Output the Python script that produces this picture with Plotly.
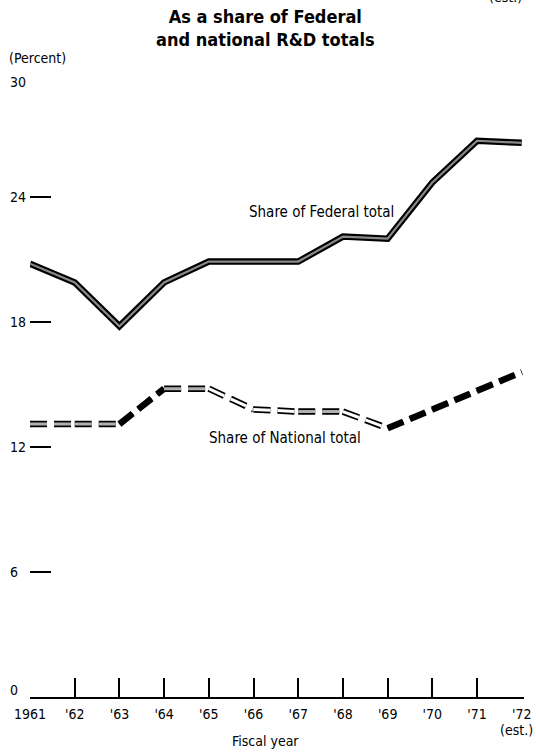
import plotly.graph_objects as go

# ---- data ----
years = list(range(1961, 1973))
year_labels = ["1961", "'62", "'63", "'64", "'65", "'66", "'67", "'68", "'69", "'70", "'71", "'72"]
federal_share = [20.8, 19.9, 17.8, 19.9, 20.9, 20.9, 20.9, 22.1, 22.0, 24.7, 26.7, 26.6]
national_share = [13.1, 13.1, 13.1, 14.8, 14.8, 13.8, 13.7, 13.7, 12.9, 13.8, 14.7, 15.6]
y_tick_values = [0, 6, 12, 18, 24, 30]
y_tick_text = ["0", "6", "12", "18", "24", "30"]

FONT = "Liberation Sans Narrow, DejaVu Sans Condensed, Arial Narrow, sans-serif"

fig = go.Figure()

# Federal share: dark ribbon line
fig.add_trace(go.Scatter(x=years, y=federal_share, mode="lines",
                         line=dict(color="black", width=6.5), hoverinfo="skip", showlegend=False))
fig.add_trace(go.Scatter(x=years, y=federal_share, mode="lines",
                         line=dict(color="#8a8a8a", width=2.2), hoverinfo="skip", showlegend=False))

# National share: dashed ribbon, segment fill depends on direction
for i in range(len(years) - 1):
    xs = years[i:i + 2]
    ys = national_share[i:i + 2]
    d = ys[1] - ys[0]
    if d > 0.05:
        inner = "black"
    elif d < -0.05:
        inner = "white"
    else:
        inner = "#b0b0b0"
    fig.add_trace(go.Scatter(x=xs, y=ys, mode="lines",
                             line=dict(color="black", width=6.5, dash="17px,7px"),
                             hoverinfo="skip", showlegend=False))
    fig.add_trace(go.Scatter(x=xs, y=ys, mode="lines",
                             line=dict(color=inner, width=3, dash="17px,7px"),
                             hoverinfo="skip", showlegend=False))

# helper trace for the tick-mark axis
fig.add_trace(go.Scatter(x=[years[0]], y=[0], xaxis="x2", mode="markers",
                         marker=dict(opacity=0), hoverinfo="skip", showlegend=False))

x_range = [1961, 1972.05]

fig.update_layout(
    width=536, height=752,
    margin=dict(l=30, r=12, t=72, b=55, autoexpand=False),
    paper_bgcolor="white", plot_bgcolor="white",
    font=dict(family=FONT, color="black", size=14),
    xaxis=dict(range=x_range, tickmode="array", tickvals=years, ticktext=year_labels,
               ticks="", showline=True, linecolor="black", linewidth=2,
               showgrid=False, zeroline=False, tickfont=dict(size=14, family=FONT),
               ticklabelstandoff=3, ticklabeloverflow="allow", automargin=False),
    xaxis2=dict(range=x_range, overlaying="x", anchor="y", side="bottom",
                tickmode="array", tickvals=years[1:-1], ticks="inside", ticklen=19,
                tickwidth=1.5, tickcolor="black", showticklabels=False,
                showline=False, showgrid=False, zeroline=False, automargin=False),
    yaxis=dict(range=[0, 30], tickmode="array", tickvals=y_tick_values[1:-1],
               ticks="inside", ticklen=21, tickwidth=1.5, tickcolor="black",
               showticklabels=False, showline=False, showgrid=False, zeroline=False,
               automargin=False),
)

annotations = [
    dict(text="<b>As a share of Federal<br>and national R&D totals</b>", xref="paper", yref="paper",
         x=(265 - 30) / 494, y=1 + (72 - 28) / 625, xanchor="center", yanchor="middle",
         showarrow=False, font=dict(size=18, family=FONT)),
    dict(text="(est.)", xref="paper", yref="paper", x=(505 - 30) / 494, y=1 + (72 + 3) / 625,
         xanchor="center", yanchor="middle", showarrow=False, font=dict(size=14, family=FONT)),
    dict(text="(est.)", xref="paper", yref="paper", x=(535 - 30) / 494, y=-(730 - 697) / 625,
         xanchor="right", yanchor="middle", showarrow=False, font=dict(size=14, family=FONT)),
    dict(text="(Percent)", xref="paper", yref="paper", x=(7 - 30) / 494, y=1 + (72 - 58) / 625,
         xanchor="left", yanchor="middle", showarrow=False, font=dict(size=14, family=FONT)),
    dict(text="Fiscal year", xref="paper", yref="paper", x=(265 - 30) / 494, y=-(741 - 697) / 625,
         xanchor="center", yanchor="middle", showarrow=False, font=dict(size=14, family=FONT)),
    dict(text="Share of Federal total", xref="x", yref="y", x=1967.53, y=23.28,
         xanchor="center", yanchor="middle", showarrow=False, font=dict(size=15, family=FONT)),
    dict(text="Share of National total", xref="x", yref="y", x=1966.7, y=12.45,
         xanchor="center", yanchor="middle", showarrow=False, font=dict(size=15, family=FONT)),
]
for v, t in zip(y_tick_values, y_tick_text):
    shift = 0
    if v == 0:
        shift = 7
    elif v == 30:
        shift = -10
    annotations.append(dict(text=t, xref="paper", yref="y", x=(8 - 30) / 494, y=v, yshift=shift,
                            xanchor="left", yanchor="middle", showarrow=False,
                            font=dict(size=14, family=FONT)))
fig.update_layout(annotations=annotations)

fig.write_html("out.html", config={"displayModeBar": False},
               post_script="document.body.style.margin='0';")
